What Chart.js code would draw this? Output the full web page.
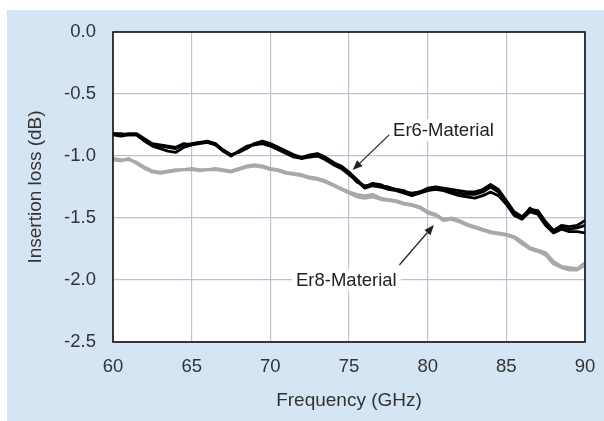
<!DOCTYPE html>
<html>
<head>
<meta charset="utf-8">
<script src="https://cdn.jsdelivr.net/npm/chart.js"></script>
<style>
  body { margin: 0; background: #fff; }
  #panel { position: absolute; left: 7px; top: 10px; width: 597px; height: 411px; background: #d5e5f4; }
</style>
</head>
<body>
<div id="panel"><canvas id="myChart" width="597" height="411"></canvas></div>

<script>
// frequency axis (GHz)
const freqs = [60,60.5,61,61.5,62,62.5,63,63.5,64,64.5,65,65.5,66,66.5,67,67.5,68,68.5,69,69.5,
  70,70.5,71,71.5,72,72.5,73,73.5,74,74.5,75,75.5,76,76.5,77,77.5,78,78.5,79,79.5,
  80,80.5,81,81.5,82,82.5,83,83.5,84,84.5,85,85.5,86,86.5,87,87.5,88,88.5,89,89.5,90];

// Er6 traces (dB)
const er6A = [-0.82,-0.83,-0.82,-0.82,-0.86,-0.90,-0.91,-0.92,-0.93,-0.90,-0.91,-0.89,-0.88,-0.90,-0.95,-0.99,-0.97,-0.93,-0.90,-0.89,
  -0.91,-0.94,-0.97,-1.00,-1.02,-1.00,-0.99,-1.02,-1.06,-1.08,-1.13,-1.19,-1.25,-1.22,-1.23,-1.26,-1.27,-1.28,-1.31,-1.29,
  -1.27,-1.25,-1.26,-1.27,-1.28,-1.29,-1.29,-1.27,-1.23,-1.27,-1.36,-1.45,-1.49,-1.43,-1.44,-1.53,-1.60,-1.56,-1.57,-1.56,-1.52];
const er6B = [-0.83,-0.84,-0.83,-0.83,-0.87,-0.91,-0.92,-0.93,-0.94,-0.91,-0.90,-0.89,-0.89,-0.91,-0.96,-1.00,-0.96,-0.92,-0.91,-0.90,
  -0.92,-0.95,-0.98,-1.01,-1.02,-1.01,-1.00,-1.03,-1.07,-1.10,-1.15,-1.20,-1.26,-1.24,-1.25,-1.27,-1.28,-1.30,-1.32,-1.30,
  -1.28,-1.27,-1.28,-1.30,-1.32,-1.33,-1.34,-1.32,-1.29,-1.32,-1.39,-1.48,-1.51,-1.45,-1.47,-1.56,-1.62,-1.59,-1.61,-1.61,-1.62];
const er6C = [-0.82,-0.82,-0.83,-0.83,-0.88,-0.92,-0.94,-0.96,-0.97,-0.93,-0.91,-0.90,-0.89,-0.90,-0.96,-0.99,-0.97,-0.94,-0.90,-0.88,
  -0.90,-0.93,-0.96,-0.99,-1.01,-0.99,-0.98,-1.01,-1.05,-1.09,-1.14,-1.21,-1.24,-1.23,-1.24,-1.25,-1.27,-1.29,-1.30,-1.29,
  -1.26,-1.25,-1.27,-1.29,-1.30,-1.31,-1.31,-1.29,-1.25,-1.29,-1.38,-1.47,-1.50,-1.42,-1.46,-1.55,-1.61,-1.58,-1.59,-1.58,-1.56];

// Er8 traces (dB)
const er8A = [-1.02,-1.03,-1.03,-1.05,-1.09,-1.12,-1.13,-1.12,-1.11,-1.11,-1.10,-1.11,-1.11,-1.10,-1.11,-1.12,-1.10,-1.08,-1.07,-1.08,
  -1.10,-1.11,-1.13,-1.14,-1.15,-1.17,-1.18,-1.20,-1.23,-1.26,-1.29,-1.31,-1.32,-1.31,-1.34,-1.35,-1.36,-1.38,-1.39,-1.41,
  -1.45,-1.47,-1.51,-1.50,-1.52,-1.55,-1.57,-1.59,-1.61,-1.62,-1.63,-1.65,-1.69,-1.74,-1.76,-1.78,-1.85,-1.89,-1.90,-1.91,-1.86];
const er8B = [-1.03,-1.04,-1.02,-1.06,-1.10,-1.13,-1.14,-1.13,-1.12,-1.11,-1.11,-1.12,-1.11,-1.11,-1.12,-1.13,-1.11,-1.09,-1.08,-1.09,
  -1.11,-1.12,-1.14,-1.15,-1.16,-1.18,-1.19,-1.21,-1.24,-1.27,-1.30,-1.33,-1.34,-1.33,-1.35,-1.36,-1.37,-1.39,-1.40,-1.42,
  -1.46,-1.48,-1.52,-1.51,-1.53,-1.56,-1.58,-1.60,-1.62,-1.63,-1.64,-1.66,-1.71,-1.75,-1.77,-1.80,-1.87,-1.90,-1.92,-1.92,-1.88];

// tick values
const xTicks = [60, 65, 70, 75, 80, 85, 90];
const yTicks = [0, -0.5, -1.0, -1.5, -2.0, -2.5];

const FONT = '"Liberation Sans", Arial, Helvetica, sans-serif';
const TXT = '#333';

// callouts: text position and arrow (tail -> head) in data units
const notes = [
  { text: 'Er6-Material', x: 77.8, y: -0.79, from: [77.55, -0.83], to: [75.23, -1.113] },
  { text: 'Er8-Material', x: 71.63, y: -2.0, from: [78.2, -1.879], to: [80.4, -1.556] }
];

function pts(ys) {
  return freqs.map((f, i) => ({ x: f, y: ys[i] }));
}

function line(label, ys, color, w) {
  return {
    label: label,
    data: pts(ys),
    borderColor: color,
    borderWidth: w,
    pointRadius: 0,
    tension: 0,
    borderJoinStyle: 'round',
    borderCapStyle: 'round'
  };
}

const framePlugin = {
  id: 'frame',
  beforeDraw(chart) {
    const a = chart.chartArea, ctx = chart.ctx;
    ctx.save();
    ctx.fillStyle = '#fff';
    ctx.fillRect(a.left, a.top, a.right - a.left, a.bottom - a.top);
    ctx.restore();
  },
  afterDatasetsDraw(chart) {
    const a = chart.chartArea, ctx = chart.ctx;
    const xs = chart.scales.x, ys = chart.scales.y;
    ctx.save();
    // callouts
    ctx.font = '18.5px ' + FONT;
    ctx.textBaseline = 'middle';
    ctx.textAlign = 'left';
    notes.forEach(n => {
      const tx = xs.getPixelForValue(n.x), ty = ys.getPixelForValue(n.y);
      const w = ctx.measureText(n.text).width;
      ctx.fillStyle = '#fff';
      ctx.fillRect(tx - 4, ty - 11, w + 8, 22);
      ctx.fillStyle = '#222';
      ctx.fillText(n.text, tx, ty + 1);

      const x0 = xs.getPixelForValue(n.from[0]), y0 = ys.getPixelForValue(n.from[1]);
      const x1 = xs.getPixelForValue(n.to[0]), y1 = ys.getPixelForValue(n.to[1]);
      const ang = Math.atan2(y1 - y0, x1 - x0);
      const hl = 10, hw = 4;
      const bx = x1 - hl * Math.cos(ang), by = y1 - hl * Math.sin(ang);
      ctx.strokeStyle = '#222';
      ctx.lineWidth = 1.2;
      ctx.beginPath();
      ctx.moveTo(x0, y0);
      ctx.lineTo(bx, by);
      ctx.stroke();
      ctx.fillStyle = '#222';
      ctx.beginPath();
      ctx.moveTo(x1, y1);
      ctx.lineTo(bx + hw * Math.sin(ang), by - hw * Math.cos(ang));
      ctx.lineTo(bx - hw * Math.sin(ang), by + hw * Math.cos(ang));
      ctx.closePath();
      ctx.fill();
    });
    // plot frame
    ctx.strokeStyle = '#111';
    ctx.lineWidth = 1.6;
    ctx.strokeRect(a.left, a.top, a.right - a.left, a.bottom - a.top);
    ctx.restore();
  }
};

const ctx = document.getElementById('myChart');
const myChart = new Chart(ctx, {
  type: 'line',
  data: {
    datasets: [
      line('Er8-Material', er8A, '#a8a8a8', 3),
      line('Er8-Material', er8B, '#ababab', 3),
      line('Er6-Material', er6A, '#000', 2.8),
      line('Er6-Material', er6B, '#000', 2.8),
      line('Er6-Material', er6C, '#000', 2.8)
    ]
  },
  options: {
    responsive: false,
    animation: false,
    layout: { padding: { top: 22, right: 19, left: 0, bottom: 0 } },
    plugins: { legend: { display: false }, tooltip: { enabled: false } },
    scales: {
      x: {
        type: 'linear',
        min: 60, max: 90,
        afterFit: s => { s.height = 79; s.paddingLeft = 0; s.paddingRight = 0; },
        afterBuildTicks: s => { s.ticks = xTicks.map(v => ({ value: v })); },
        grid: { color: '#b9c3d2', lineWidth: 1.2, drawTicks: false },
        border: { display: false },
        ticks: { padding: 14, color: TXT, font: { family: FONT, size: 18.5 }, maxRotation: 0 },
        title: { display: true, text: 'Frequency (GHz)', color: TXT, font: { family: FONT, size: 19 }, padding: { top: 0, bottom: 9 } }
      },
      y: {
        min: -2.5, max: 0,
        afterFit: s => { s.width = 106; s.paddingTop = 0; s.paddingBottom = 0; },
        afterBuildTicks: s => { s.ticks = yTicks.map(v => ({ value: v })); },
        grid: { color: '#b9c3d2', lineWidth: 1.2, drawTicks: false },
        border: { display: false },
        ticks: { padding: 17, color: TXT, font: { family: FONT, size: 18.5 }, callback: v => v.toFixed(1) },
        title: { display: true, text: 'Insertion loss (dB)', color: TXT, font: { family: FONT, size: 19 }, padding: { top: 17, bottom: 0 } }
      }
    }
  },
  plugins: [framePlugin]
});
</script>
</body>
</html>
